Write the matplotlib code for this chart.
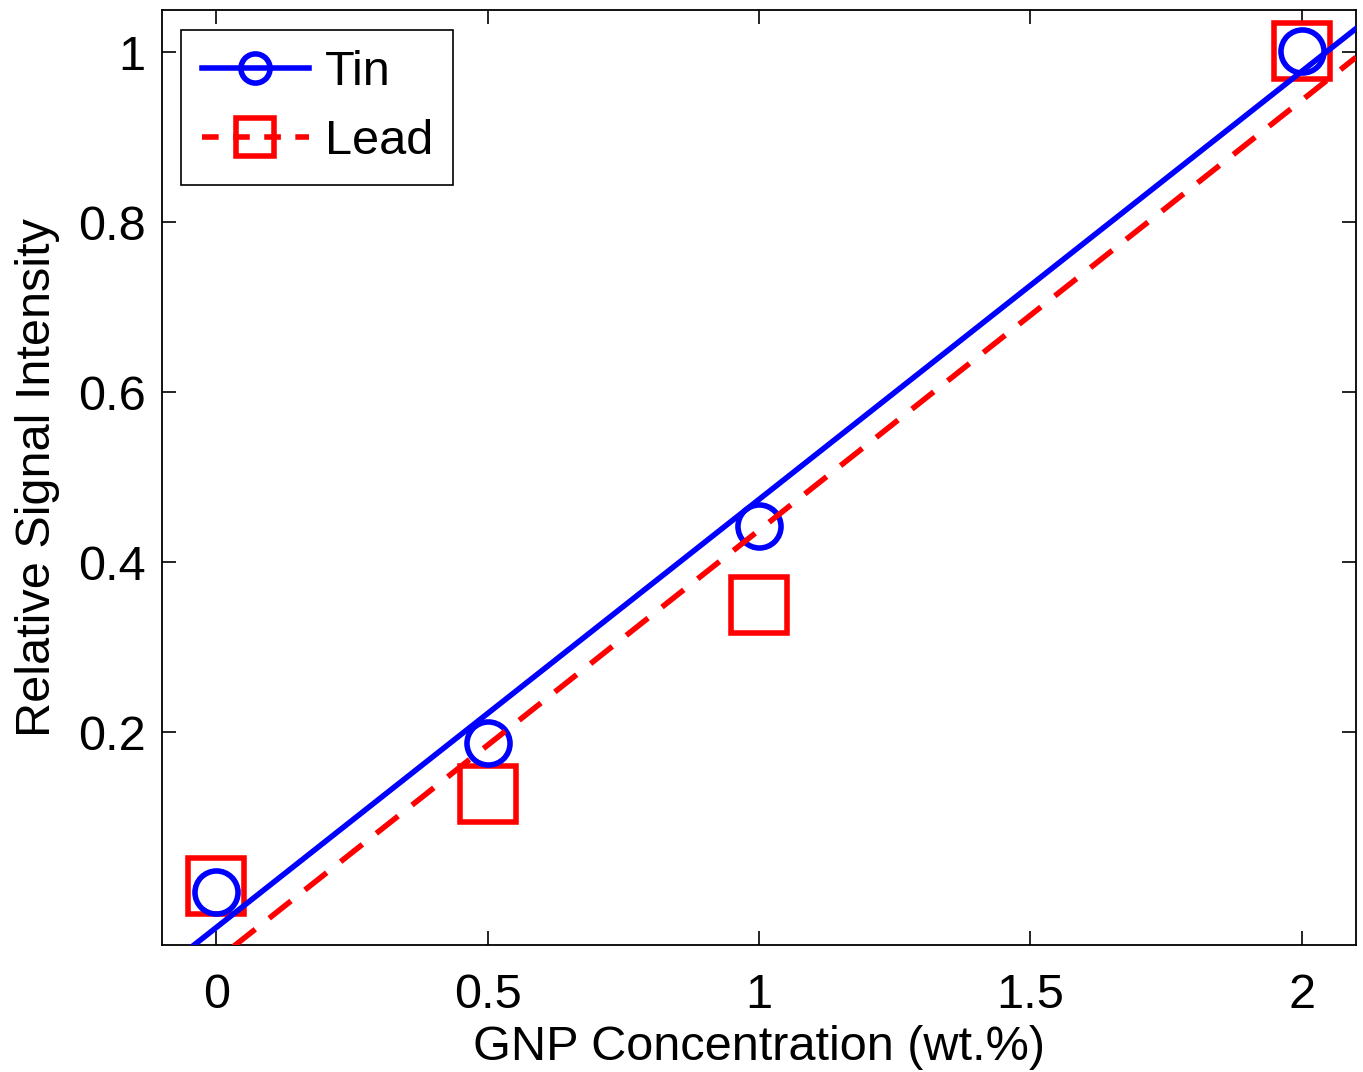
import matplotlib
matplotlib.use('Agg')
import matplotlib.pyplot as plt
from matplotlib.lines import Line2D
import numpy as np

plt.rcParams['font.family'] = ['Liberation Sans', 'DejaVu Sans']

# data
conc = np.array([0, 0.5, 1, 2])
tin = np.array([0.012, 0.188, 0.443, 1.002])
lead = np.array([0.019, 0.128, 0.350, 1.002])

xticks = [0, 0.5, 1, 1.5, 2]
xticklabels = ['0', '0.5', '1', '1.5', '2']
yticks = [0.2, 0.4, 0.6, 0.8, 1]
yticklabels = ['0.2', '0.4', '0.6', '0.8', '1']

fig = plt.figure(figsize=(13.63, 10.72), dpi=100)
ax = fig.add_axes([0.1189, 0.1185, 0.876, 0.8722])

lw = 4.0
dash = (5.0, 3.2)
fs = 35

# markers first, fit lines on top
ax.plot(conc, tin, 'o', color='blue', mfc='none', mew=lw, ms=31, zorder=2)
ax.plot(conc, lead, 's', color='red', mfc='none', mew=lw, ms=40, zorder=1.9)

xx = np.array([-0.1, 2.1])
p_tin = np.polyfit(conc, tin, 1)
p_lead = np.polyfit(conc, lead, 1)
ax.plot(xx, np.polyval(p_tin, xx), '-', color='blue', lw=lw, zorder=3)
ax.plot(xx, np.polyval(p_lead, xx), color='red', lw=lw, dashes=dash, zorder=3.1)

ax.set_xlim(-0.1, 2.1)
ax.set_ylim(-0.05, 1.05)
ax.set_xticks(xticks)
ax.set_xticklabels(xticklabels)
ax.set_yticks(yticks)
ax.set_yticklabels(yticklabels)
ax.tick_params(direction='in', length=10, width=1.2, labelsize=fs,
               top=True, right=True)
ax.tick_params(axis='x', pad=20)
ax.tick_params(axis='y', pad=12)
for s in ax.spines.values():
    s.set_linewidth(1.3)

ax.set_xlabel('GNP Concentration (wt.%)', fontsize=fs, labelpad=5)
ax.set_ylabel('Relative Signal Intensity', fontsize=fs, labelpad=13)

handles = [
    Line2D([], [], color='blue', lw=lw, marker='o', mfc='none', mew=lw, ms=21),
    Line2D([], [], color='red', lw=lw, dashes=(3.0, 2.6), marker='s', mfc='none', mew=lw, ms=27),
]
leg = ax.legend(handles, ['Tin', 'Lead'], loc='upper left', fontsize=fs,
                fancybox=False, edgecolor='black', framealpha=1,
                handlelength=2.2, handletextpad=0.33, borderpad=0.42,
                labelspacing=0.5, borderaxespad=0,
                bbox_to_anchor=(0.016, 0.979))
leg.get_frame().set_linewidth(1.2)

fig.savefig('out.png', dpi=100)
